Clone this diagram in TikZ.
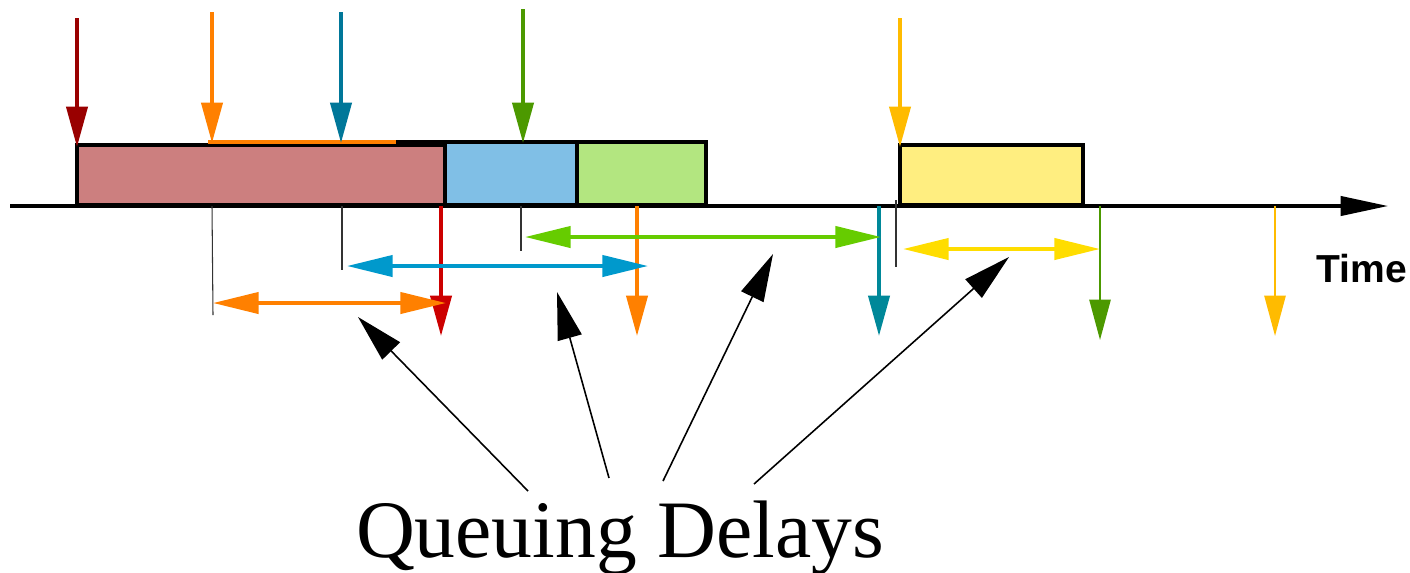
\documentclass[tikz,border=0pt]{standalone}
\usepackage{fontspec}
\setmainfont{Liberation Serif}
\setsansfont{Liberation Sans}
\usetikzlibrary{arrows.meta}

\definecolor{arrred}{HTML}{990000}
\definecolor{deporange}{HTML}{FF8000}
\definecolor{arrteal}{HTML}{007799}
\definecolor{arrgreen}{HTML}{4C9900}
\definecolor{arrgold}{HTML}{FFBB00}
\definecolor{depred}{HTML}{CC0000}
\definecolor{depteal}{HTML}{008899}
\definecolor{dlyblue}{HTML}{0099CC}
\definecolor{dlylime}{HTML}{66CC00}
\definecolor{dlyyellow}{HTML}{FFDD00}
\definecolor{pktred}{HTML}{CC7F7F}
\definecolor{pktblue}{HTML}{80BFE6}
\definecolor{pktgreen}{HTML}{B3E680}
\definecolor{pktyellow}{HTML}{FFEE80}

\tikzset{
  pkt/.style={draw=black, line width=1.1pt},
  evt/.style={->, line width=1.1pt},
  dly/.style={<->, line width=1.1pt, >={Triangle[length=13pt,width=6pt]}},
  tick/.style={line width=0.3pt, black!80},
  pointer/.style={->, line width=0.45pt, >={Triangle[length=13.5pt,width=7pt]}}
}

\begin{document}
\begin{tikzpicture}[x=0.01cm, y=-0.01cm, >={Triangle[length=11.5pt,width=6pt]}]

\useasboundingbox (0,0) rectangle (1410,572);

% packets in service
\draw[pkt, fill=pktblue] (396,142) rectangle (577,205);
\draw[pkt, fill=pktgreen] (577,142) rectangle (706,205);
\draw[pkt, fill=pktred] (77,145) rectangle (445,205);
\draw[pkt, fill=pktyellow] (900,145) rectangle (1083,205);
\draw[line width=1pt, deporange] (208,142) -- (396,142);

% time axis
\coordinate (t0) at (10,206);
\coordinate (t1) at (1388,206);
\draw[->, line width=0.9pt, >={Triangle[length=13.5pt,width=5.5pt]}] (t0) -- (t1);
\node (time) [anchor=base, font=\sffamily\bfseries\fontsize{11.1}{13}\selectfont] at (1362,282) {Time};

% arrivals
\foreach \x/\y/\t/\c in {77/18/147/arrred, 212/12/143/deporange, 341/12/143/arrteal, 523/9/143/arrgreen, 900/18/147/arrgold}
{
	\draw[evt, \c] (\x,\y) -- (\x,\t);
}

% departures
\foreach \x/\c in {441/depred, 637/deporange, 879/depteal}
{
	\draw[evt, \c] (\x,206) -- (\x,336);
}
\draw[evt, arrgreen, line width=0.7pt] (1100,206) -- (1100,340);
\draw[evt, arrgold, line width=0.7pt] (1275,206) -- (1275,336);

% arrival marks
\draw[tick] (212,206) -- (213,315);
\draw[tick] (342,206) -- (342,270);
\draw[tick] (521,206) -- (521,251);
\draw[tick] (896,200) -- (896,267);

% queuing delays
\coordinate (d1) at (358,317);
\coordinate (d2) at (557,292);
\coordinate (d3) at (773,254);
\coordinate (d4) at (1009,257);
\draw[dly, deporange] (213,303) -- (446,303);
\draw[dly, dlyblue] (347,266) -- (648,266);
\draw[dly, dlylime] (525,237) -- (881,237);
\draw[dly, dlyyellow] (903,249) -- (1100,249);

\node (qd) [anchor=base, font=\fontsize{23.2}{28}\selectfont] at (620,557) {Queuing Delays};
\coordinate (p1) at (528,491);
\coordinate (p2) at (609,478);
\coordinate (p3) at (663,481);
\coordinate (p4) at (754,484);
\foreach \i in {1,...,4}
{
	\draw[pointer] (p\i) -- (d\i);
}

\end{tikzpicture}
\end{document}
